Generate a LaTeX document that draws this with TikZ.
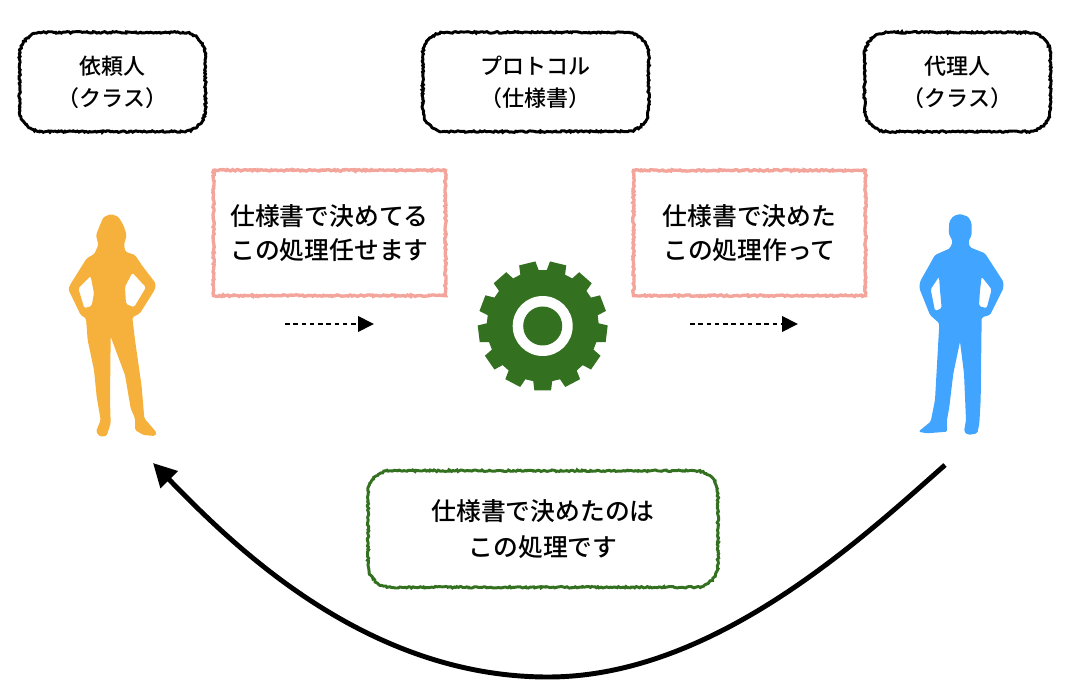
\documentclass[tikz,border=0pt]{standalone}
\usepackage{fontspec}
\setmainfont{Noto Sans CJK JP Medium}
\usetikzlibrary{arrows.meta,decorations.pathmorphing,positioning}

\definecolor{pinkline}{HTML}{F4A59B}
\definecolor{gearcol}{HTML}{33701F}
\definecolor{clientcol}{HTML}{F5B13C}
\definecolor{agentcol}{HTML}{41A4FF}

\newcommand{\roughround}[2]{
  \draw[#2,line width=2.2pt,sketchy]
    ([xshift=17pt]#1.north west) -- ([xshift=-17pt]#1.north east) arc [start angle=90,end angle=0,radius=17pt]
    -- ([yshift=17pt]#1.south east) arc [start angle=0,end angle=-90,radius=17pt]
    -- ([xshift=17pt]#1.south west) arc [start angle=-90,end angle=-180,radius=17pt]
    -- ([yshift=-17pt]#1.north west) arc [start angle=180,end angle=90,radius=17pt] -- cycle;
}

\begin{document}
\begin{tikzpicture}[x=0.75pt,y=-0.75pt,>={Stealth[length=12pt,width=11.5pt,inset=0pt]},
  sketchy/.style={decorate,decoration={random steps,segment length=1.2pt,amplitude=0.6pt}},
  classbox/.style={minimum height=74pt,align=center,font=\fontsize{16.5}{24}\selectfont},
  askbox/.style={draw=pinkline,line width=2.5pt,sketchy,minimum width=174pt,minimum height=94pt,
    align=center,font=\fontsize{18.6}{25.5}\selectfont},
  replybox/.style={minimum width=262pt,minimum height=87pt,
    align=center,font=\fontsize{18.6}{26.5}\selectfont},
  askarrow/.style={->,line width=2pt,dash pattern=on 3.4pt off 2.8pt},
  replyarrow/.style={->,line width=3.7pt,>={Stealth[length=17.5pt,width=17.5pt,inset=0pt]}}]
  \useasboundingbox (0,0) rectangle (1092,698);

  % class boxes
  \node[classbox,minimum width=139pt] (client) at (112.5,82) {依頼人\\（クラス）};
  \node[classbox,minimum width=169pt] (protocol) [right=163pt of client] {プロトコル\\（仕様書）};
  \node[classbox,minimum width=139pt] (agent) [right=162pt of protocol] {代理人\\（クラス）};
  \roughround{client}{black}
  \roughround{protocol}{black}
  \roughround{agent}{black}

  % messages
  \node[askbox] (askleft) at (329.5,233) {仕様書で決めてる\\この処理任せます};
  \node[askbox] (askright) at (749.5,233) {仕様書で決めた\\この処理作って};
  \node[replybox] (reply) at (543,529) {仕様書で決めたのは\\この処理です};
  \roughround{reply}{gearcol}

  % client
  \begin{scope}[shift={(40,200)},x=0.25pt,y=-0.25pt]
    \fill[clientcol,even odd rule,rounded corners=1.2pt]
      (212,42) -- (235,50) -- (250,75) -- (260,105) -- (252,135) -- (256,155) -- (285,165) -- (305,195)
      -- (347,250) -- (345,268) -- (300,340) -- (277,352) -- (285,420) -- (305,560) -- (313,655)
      -- (350,698) -- (345,708) -- (310,705) -- (285,690) -- (285,655) -- (272,625) -- (255,525)
      -- (212,410) -- (210,600) -- (212,670) -- (200,708) -- (180,710) -- (168,695) -- (182,660)
      -- (170,590) -- (162,510) -- (143,420) -- (138,355) -- (122,345) -- (85,268) -- (90,255)
      -- (140,175) -- (163,162) -- (175,135) -- (168,105) -- (180,75) -- (190,52) -- cycle
      (152,228) -- (115,265) -- (133,325) -- (155,318) -- (162,280) -- cycle
      (277,218) -- (318,262) -- (282,322) -- (258,312) -- (255,260) -- cycle;
  \end{scope}

  % agent
  \begin{scope}[shift={(890,200)},x=0.25pt,y=-0.25pt]
    \fill[agentcol,even odd rule,rounded corners=1.2pt]
      (210,42) -- (235,50) -- (245,70) -- (245,105) -- (235,125) -- (240,142) -- (285,160) -- (340,245)
      -- (340,265) -- (300,345) -- (275,352) -- (272,600) -- (268,670) -- (262,700) -- (235,705)
      -- (222,695) -- (228,660) -- (222,520) -- (210,425) -- (190,520) -- (178,620) -- (170,665)
      -- (172,695) -- (110,700) -- (85,695) -- (122,665) -- (135,600) -- (148,370) -- (120,345)
      -- (88,265) -- (90,245) -- (135,165) -- (180,145) -- (188,125) -- (176,100) -- (178,65) -- (190,48) -- cycle
      (147,230) -- (122,268) -- (135,333) -- (155,325) -- (150,270) -- cycle
      (275,230) -- (305,268) -- (290,325) -- (267,318) -- (270,270) -- cycle;
  \end{scope}

  % gear
  \fill[gearcol] (542.7,326) +(80.3:56)
    \foreach \a in {90,117.692,...,423} {
      -- +(\a-9.7:56) -- +(\a-7.4:65) -- +(\a+7.4:65) -- +(\a+9.7:56)
    } -- cycle;
  \fill[white] (542.7,326) circle [radius=30];
  \fill[gearcol] (542.7,326) circle [radius=19.5];

  % connectors
  \coordinate (leftfrom) at (285,324);
  \coordinate (leftto) at (374,324);
  \coordinate (rightfrom) at (690,324);
  \coordinate (rightto) at (798,324);
  \coordinate (replyfrom) at (945,465);
  \coordinate (replylow) at (548,677);
  \coordinate (replyto) at (153,463);
  \draw[askarrow] (leftfrom) -- (leftto);
  \draw[askarrow] (rightfrom) -- (rightto);
  \draw[replyarrow] (replyfrom) .. controls (858,542) and (712,677) .. (replylow)
    .. controls (364,677) and (231,543) .. (replyto);
\end{tikzpicture}
\end{document}
